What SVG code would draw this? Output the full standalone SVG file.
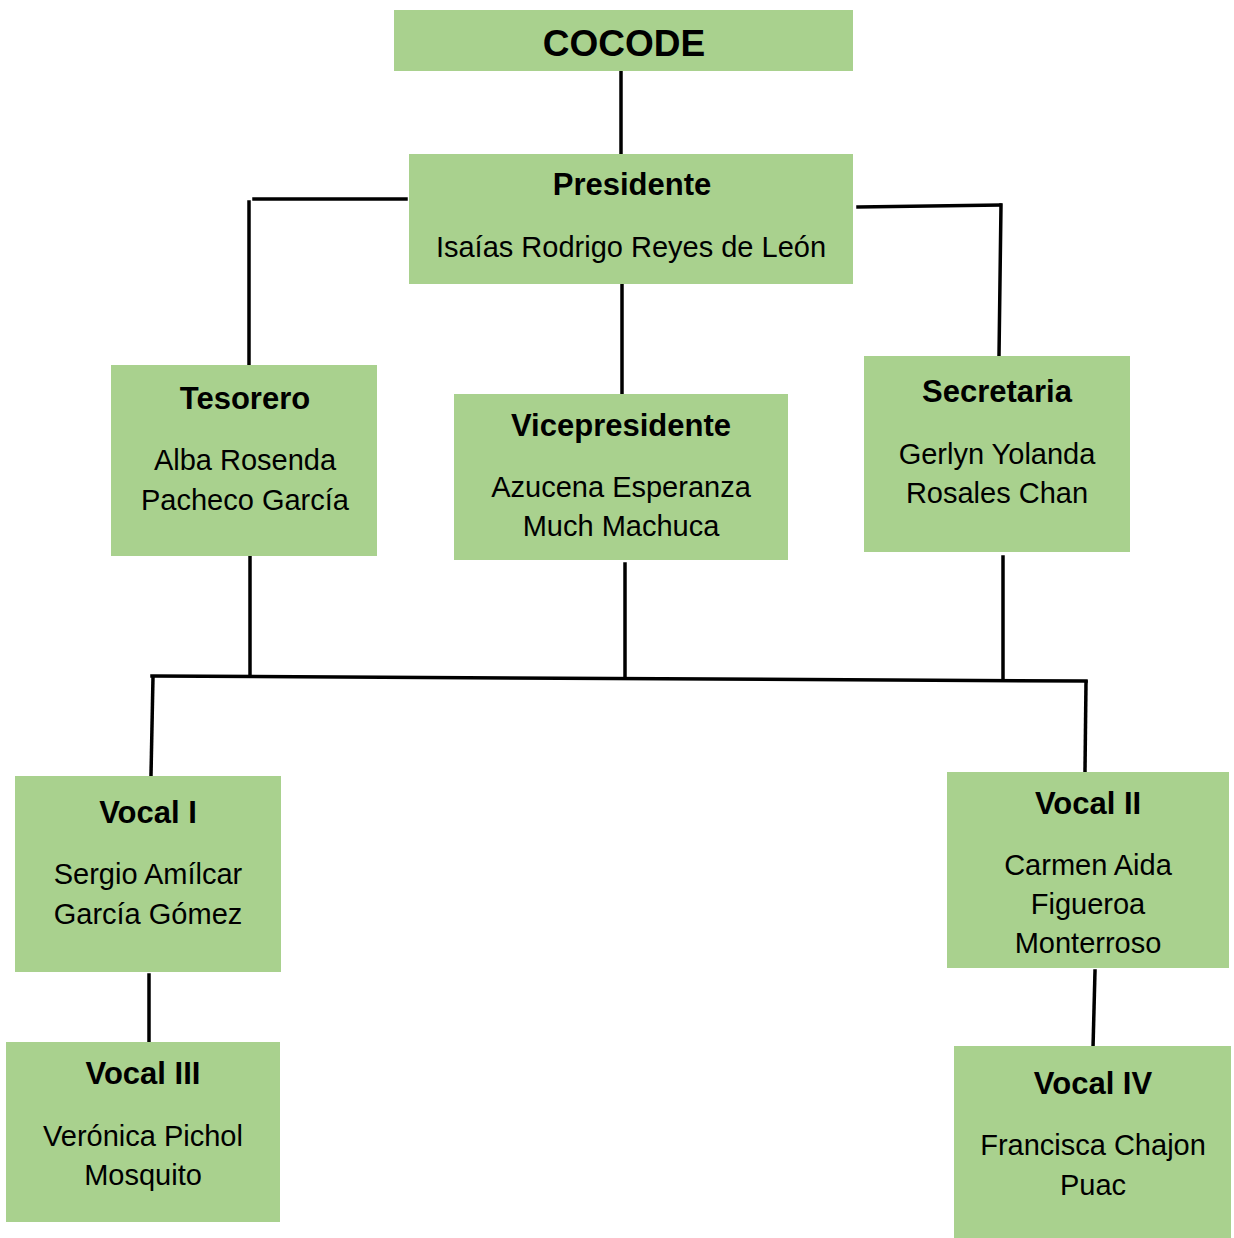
<svg xmlns="http://www.w3.org/2000/svg" width="1234" height="1238" viewBox="0 0 1234 1238">
<style>
.box{fill:#A9D18E;}
.t{font-family:"Liberation Sans",Arial,sans-serif;font-weight:bold;font-size:31px;fill:#000;text-anchor:middle;}
.n{font-family:"Liberation Sans",Arial,sans-serif;font-size:28px;fill:#000;text-anchor:middle;}
.c{stroke:#000;stroke-width:3.5;fill:none;stroke-linecap:square;}
</style>
<rect width="1234" height="1238" fill="#fff"/>
<g id="connectors">
<line class="c" x1="621" y1="71" x2="621" y2="154"/>
<line class="c" x1="254" y1="199" x2="406" y2="199"/>
<line class="c" x1="249" y1="202" x2="249" y2="365"/>
<line class="c" x1="858" y1="207" x2="1000" y2="205"/>
<line class="c" x1="1001" y1="205" x2="999" y2="356"/>
<line class="c" x1="622" y1="280" x2="622" y2="397"/>
<line class="c" x1="250" y1="557" x2="250" y2="676"/>
<line class="c" x1="625" y1="564" x2="625" y2="678"/>
<line class="c" x1="1003" y1="557" x2="1003" y2="680"/>
<line class="c" x1="152" y1="676" x2="1086" y2="681"/>
<line class="c" x1="153" y1="677" x2="151" y2="775"/>
<line class="c" x1="1086" y1="682" x2="1085" y2="771"/>
<line class="c" x1="149" y1="975" x2="149" y2="1041"/>
<line class="c" x1="1095" y1="971" x2="1093" y2="1048"/>
</g>
<g id="cocode"><rect class="box" x="394" y="10" width="459" height="61"/><text class="t" x="624" y="56" style="font-size:37px">COCODE</text></g>
<g id="presidente"><rect class="box" x="409" y="154" width="444" height="130"/><text class="t" x="632" y="195">Presidente</text><text class="n" x="631" y="257" style="font-size:29px">Isaías Rodrigo Reyes de León</text></g>
<g id="tesorero"><rect class="box" x="111" y="365" width="266" height="191"/><text class="t" x="245" y="409">Tesorero</text><text class="n" x="245" y="470" style="font-size:29px">Alba Rosenda</text><text class="n" x="245" y="510" style="font-size:29px">Pacheco García</text></g>
<g id="vicepresidente"><rect class="box" x="454" y="394" width="334" height="166"/><text class="t" x="621" y="436">Vicepresidente</text><text class="n" x="621" y="497" style="font-size:29px">Azucena Esperanza</text><text class="n" x="621" y="536" style="font-size:29px">Much Machuca</text></g>
<g id="secretaria"><rect class="box" x="864" y="356" width="266" height="196"/><text class="t" x="997" y="402">Secretaria</text><text class="n" x="997" y="464" style="font-size:29px">Gerlyn Yolanda</text><text class="n" x="997" y="503" style="font-size:29px">Rosales Chan</text></g>
<g id="vocal1"><rect class="box" x="15" y="776" width="266" height="196"/><text class="t" x="148" y="823">Vocal I</text><text class="n" x="148" y="884" style="font-size:29px">Sergio Amílcar</text><text class="n" x="148" y="924" style="font-size:29px">García Gómez</text></g>
<g id="vocal2"><rect class="box" x="947" y="772" width="282" height="196"/><text class="t" x="1088" y="814">Vocal II</text><text class="n" x="1088" y="875" style="font-size:29px">Carmen Aida</text><text class="n" x="1088" y="914" style="font-size:29px">Figueroa</text><text class="n" x="1088" y="953" style="font-size:29px">Monterroso</text></g>
<g id="vocal3"><rect class="box" x="6" y="1042" width="274" height="180"/><text class="t" x="143" y="1084">Vocal III</text><text class="n" x="143" y="1146" style="font-size:29px">Verónica Pichol</text><text class="n" x="143" y="1185" style="font-size:29px">Mosquito</text></g>
<g id="vocal4"><rect class="box" x="954" y="1046" width="277" height="192"/><text class="t" x="1093" y="1094">Vocal IV</text><text class="n" x="1093" y="1155" style="font-size:29px">Francisca Chajon</text><text class="n" x="1093" y="1195" style="font-size:29px">Puac</text></g>
</svg>
